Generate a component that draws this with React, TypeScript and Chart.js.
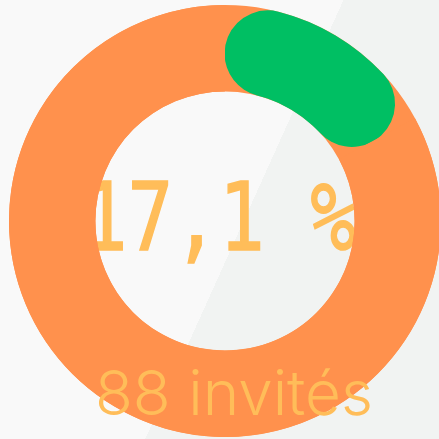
import React, { useEffect, useRef } from "react";
import { Chart, ArcElement, DoughnutController } from "chart.js";

Chart.register(ArcElement, DoughnutController);

const categories = ["Invités concernés", "Autres invités"];
const shareValues = [17.1, 82.9];
const centerLabel = "17,1 %";
const bottomLabel = "88 invités";
const sliceColors = ["#00BF63", "#FF914D"];
const textColor = "#FFBD59";

const labelPlugin = {
  id: "ringAndLabels",
  beforeDatasetsDraw(chart: any) {
    const arc = chart.getDatasetMeta(0).data[0];
    if (!arc) return;
    const { x, y, outerRadius, innerRadius } = arc.getProps(
      ["x", "y", "outerRadius", "innerRadius"],
      true
    );
    const ctx = chart.ctx;
    ctx.save();
    ctx.fillStyle = textColor;
    ctx.strokeStyle = textColor;
    ctx.lineWidth = 1.6;
    ctx.lineJoin = "miter";
    ctx.font = "95px 'DejaVu Sans Mono'";
    ctx.textAlign = "center";
    ctx.textBaseline = "alphabetic";
    ctx.translate(x - 6, y + 29);
    ctx.scale(0.8, 1);
    ctx.fillText(centerLabel, 0, 0);
    ctx.strokeText(centerLabel, 0, 0);
    ctx.restore();

    ctx.save();
    ctx.beginPath();
    ctx.arc(x, y, outerRadius, 0, Math.PI * 2);
    ctx.arc(x, y, innerRadius, 0, Math.PI * 2, true);
    ctx.fillStyle = sliceColors[1];
    ctx.fill();
    ctx.restore();
  },
  afterDatasetsDraw(chart: any) {
    const arc = chart.getDatasetMeta(0).data[0];
    if (!arc) return;
    const { x, y } = arc.getProps(["x", "y"], true);
    const ctx = chart.ctx;
    ctx.save();
    ctx.fillStyle = textColor;
    ctx.font = "300 62px Inter";
    ctx.textAlign = "center";
    ctx.textBaseline = "alphabetic";
    ctx.fillText(bottomLabel, x + 9, y + 194);
    ctx.restore();
  },
};

export default function App() {
  const canvasRef = useRef<HTMLCanvasElement | null>(null);

  useEffect(() => {
    if (!canvasRef.current) return;
    const chart = new Chart(canvasRef.current, {
      type: "doughnut",
      data: {
        labels: categories,
        datasets: [
          {
            data: shareValues,
            backgroundColor: sliceColors,
            borderWidth: 0,
            borderRadius: (c: any) => (c.dataIndex === 0 ? 999 : 0),
          },
        ],
      },
      options: {
        animation: false,
        responsive: true,
        maintainAspectRatio: false,
        cutout: "60%",
        layout: { padding: 0 },
        events: [],
        plugins: {
          legend: { display: false },
          tooltip: { enabled: false },
        },
      } as any,
      plugins: [labelPlugin],
    });
    return () => chart.destroy();
  }, []);

  return (
    <div
      style={{
        position: "fixed",
        left: 0,
        top: 0,
        width: 439,
        height: 439,
        overflow: "hidden",
        background:
          "linear-gradient(114.3deg, #f9f9f9 53.9%, #f1f3f2 53.9%)",
      }}
    >
      <div
        style={{
          position: "absolute",
          left: 9,
          top: 5,
          width: 432,
          height: 432,
        }}
      >
        <canvas ref={canvasRef} />
      </div>
    </div>
  );
}
